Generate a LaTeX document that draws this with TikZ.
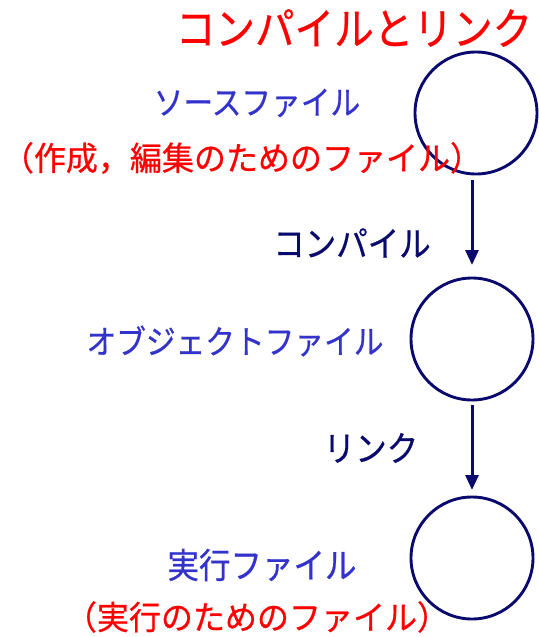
\documentclass[tikz,border=0pt]{standalone}
\usepackage{fontspec}
\setmainfont{Noto Sans CJK JP}[FakeStretch=0.9, FakeBold=0.6]
\newfontfamily\notefont{Noto Sans CJK JP}[FakeStretch=0.97, FakeBold=0.6]
\usetikzlibrary{arrows.meta}
\definecolor{navy}{HTML}{0A0A6E}
\definecolor{lblue}{HTML}{3333CC}
\definecolor{lred}{HTML}{FF0000}
\tikzset{
  filecircle/.style={circle, draw=navy, line width=2.9pt, minimum size=122pt, inner sep=0pt},
  flow/.style={draw=navy, line width=3pt, -{Triangle[length=15pt,width=13pt]}},
  bluelabel/.style={text=lblue, font=\fontsize{33}{35}\selectfont, inner sep=0pt},
  redlabel/.style={text=lred, font=\notefont\fontsize{33}{35}\selectfont, inner sep=0pt},
  steplabel/.style={text=navy, font=\fontsize{35}{37}\selectfont, inner sep=0pt},
}
\begin{document}
\begin{tikzpicture}[x=1pt,y=-1pt]
\useasboundingbox (0,0) rectangle (538,637);
\node[text=lred, font=\fontsize{44}{46}\selectfont, inner sep=0pt] (title) at (354,28) {コンパイルとリンク};
\node[filecircle] (c1) at (476,113) {};
\node[filecircle] (c2) at (472,339) {};
\node[filecircle] (c3) at (472,558) {};
\coordinate (a1s) at (472,180);
\coordinate (a1e) at (472,265);
\coordinate (a2s) at (472,405);
\coordinate (a2e) at (472,490);
\draw[flow] (a1s) -- (a1e);
\draw[flow] (a2s) -- (a2e);
\node[bluelabel] (src) at (257,103) {ソースファイル};
\node[redlabel] (srcnote) at (242,158) {（作成，編集のためのファイル）};
\node[steplabel] (compile) at (352,243) {コンパイル};
\node[bluelabel] (obj) at (235,341) {オブジェクトファイル};
\node[steplabel] (link) at (371,448) {リンク};
\node[bluelabel, font=\fontsize{35}{37}\selectfont] (exe) at (262,565) {実行ファイル};
\node[redlabel] (exenote) at (257,617) {（実行のためのファイル）};
\end{tikzpicture}
\end{document}
